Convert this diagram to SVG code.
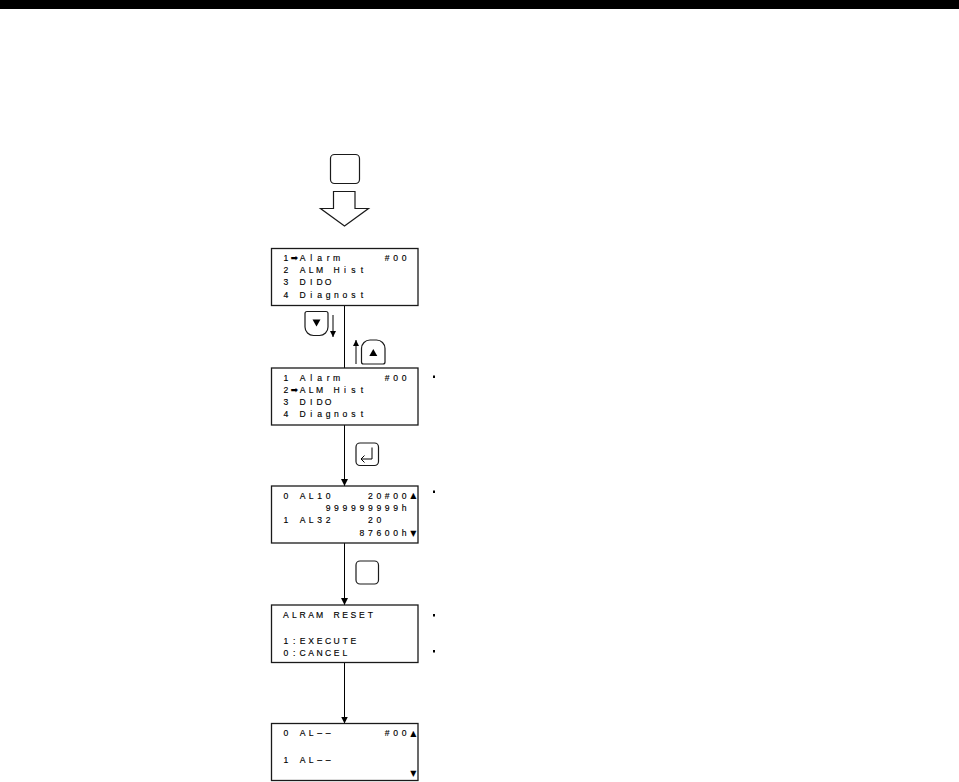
<svg xmlns="http://www.w3.org/2000/svg" width="959" height="782" viewBox="0 0 959 782">
<style>
.box{fill:#fff;stroke:#1a1a1a;stroke-width:1.3}
.btn{fill:#fff;stroke:#1a1a1a;stroke-width:1.2}
.lcd{font-family:"Liberation Sans","DejaVu Sans",sans-serif;font-size:8.6px;fill:#000;stroke:#000;stroke-width:0.15;text-anchor:middle}
.sym{font-family:"DejaVu Sans","Liberation Sans",sans-serif;font-size:8px;fill:#000;text-anchor:middle}
.ln{stroke:#000;stroke-width:1;fill:none}
.dot{fill:#000}
</style>
<defs>
<marker id="ah" viewBox="0 0 7 7" refX="7" refY="3.5" markerWidth="7" markerHeight="7" markerUnits="userSpaceOnUse" orient="auto">
<path d="M0,0 L7,3.5 L0,7 Z" fill="#000"/>
</marker>
<marker id="sa" viewBox="0 0 6 6" refX="6" refY="3" markerWidth="6" markerHeight="6" markerUnits="userSpaceOnUse" orient="auto">
<path d="M0,0 L6,3 L0,6 Z" fill="#000"/>
</marker>
</defs>
<rect x="0" y="0" width="959" height="9" fill="#000"/>

<g id="start-key">
<rect class="btn" x="330.5" y="154.5" width="29" height="29" rx="4"/>
<path class="btn" d="M333.5,191.5 H355 V208.5 H368.5 L344.5,226 L320.5,208.5 H333.5 Z"/>
</g>

<g id="connectors">
<line class="ln" x1="344.5" y1="305.5" x2="344.5" y2="368"/>
<line class="ln" x1="344.5" y1="425" x2="344.5" y2="486" marker-end="url(#ah)"/>
<line class="ln" x1="344.5" y1="543" x2="344.5" y2="605" marker-end="url(#ah)"/>
<line class="ln" x1="344.5" y1="662.5" x2="344.5" y2="723.5" marker-end="url(#ah)"/>
<line class="ln" x1="333" y1="315" x2="333" y2="337" marker-end="url(#sa)"/>
<line class="ln" x1="356" y1="364" x2="356" y2="340" marker-end="url(#sa)"/>
</g>

<g id="key-down">
<path class="btn" d="M307,311.5 H326 Q328,311.5 328,313.5 V327 A8.5,8.5 0 0 1 319.5,335.5 H313.5 A8.5,8.5 0 0 1 305,327 V313.5 Q305,311.5 307,311.5 Z"/>
<path d="M312.5,319.5 H320.5 L316.5,326.5 Z" fill="#000"/>
</g>

<g id="key-up">
<path class="btn" d="M361.5,348.5 A8.5,8.5 0 0 1 370,340 H376.5 A8.5,8.5 0 0 1 385,348.5 V362 Q385,364 383,364 H363.5 Q361.5,364 361.5,362 Z"/>
<path d="M369.3,356 H377.3 L373.3,349 Z" fill="#000"/>
</g>

<g id="key-enter">
<rect class="btn" x="356" y="443" width="22.5" height="22.5" rx="4"/>
<path class="ln" d="M372,447.5 V459 H361" stroke-width="1.2"/>
<path class="ln" d="M364.5,455.5 L361,459 L364.5,462.5" stroke-width="1.2"/>
</g>

<g id="key-blank">
<rect class="btn" x="356" y="561" width="22.5" height="23" rx="4"/>
</g>

<g id="screen-menu-1">
<rect class="box" x="271.5" y="248.5" width="146.5" height="57"/>
<text class="lcd" x="285.8 294.3 302.7 311.2 319.6 328.1 336.5 387.2 395.7 404.1" y="260.9">1➡Alarm#00</text>
<text class="lcd" x="285.8 302.7 311.2 319.6 336.5 345.0 353.4 361.9" y="273.1">2ALMHist</text>
<text class="lcd" x="285.8 302.7 311.2 319.6 328.1" y="285.3">3DIDO</text>
<text class="lcd" x="285.8 302.7 311.2 319.6 328.1 336.5 345.0 353.4 361.9" y="297.5">4Diagnost</text>
</g>

<g id="screen-menu-2">
<rect class="box" x="271.5" y="368" width="146.5" height="57"/>
<text class="lcd" x="285.8 302.7 311.2 319.6 328.1 336.5 387.2 395.7 404.1" y="380.6">1Alarm#00</text>
<text class="lcd" x="285.8 294.3 302.7 311.2 319.6 336.5 345.0 353.4 361.9" y="392.8">2➡ALMHist</text>
<text class="lcd" x="285.8 302.7 311.2 319.6 328.1" y="405">3DIDO</text>
<text class="lcd" x="285.8 302.7 311.2 319.6 328.1 336.5 345.0 353.4 361.9" y="417.4">4Diagnost</text>
</g>

<g id="screen-history">
<rect class="box" x="271.5" y="486" width="146.5" height="57"/>
<text class="lcd" x="285.8 302.7 311.2 319.6 328.1 370.3 378.8 387.2 395.7 404.1" y="498.8">0AL1020#00</text>
<text class="sym" x="413.3" y="498.3">▲</text>
<text class="lcd" x="328.1 336.5 345.0 353.4 361.9 370.3 378.8 387.2 395.7 404.1" y="511">999999999h</text>
<text class="lcd" x="285.8 302.7 311.2 319.6 328.1 370.3 378.8" y="523.3">1AL3220</text>
<text class="lcd" x="361.9 370.3 378.8 387.2 395.7 404.1" y="535.5">87600h</text>
<text class="sym" x="413.3" y="535.8">▼</text>
</g>

<g id="screen-reset">
<rect class="box" x="271.5" y="605" width="146.5" height="57.5"/>
<text class="lcd" x="285.8 294.3 302.7 311.2 319.6 336.5 345.0 353.4 361.9 370.3" y="617.5">ALRAMRESET</text>
<text class="lcd" x="285.8 294.3 302.7 311.2 319.6 328.1 336.5 345.0 353.4" y="643.8">1:EXECUTE</text>
<text class="lcd" x="285.8 294.3 302.7 311.2 319.6 328.1 336.5 345.0" y="656.1">0:CANCEL</text>
</g>

<g id="screen-cleared">
<rect class="box" x="271.5" y="723.5" width="146.5" height="57"/>
<text class="lcd" x="285.8 302.7 311.2 319.6 328.1 387.2 395.7 404.1" y="735.7">0AL––#00</text>
<text class="sym" x="413.3" y="735.5">▲</text>
<text class="lcd" x="285.8 302.7 311.2 319.6 328.1" y="762.7">1AL––</text>
<text class="sym" x="413.3" y="776">▼</text>
</g>

<g id="notes">
<rect class="dot" x="433" y="375.5" width="2" height="2.5"/>
<rect class="dot" x="433" y="490.5" width="2" height="2.5"/>
<rect class="dot" x="433" y="614" width="2" height="2.5"/>
<rect class="dot" x="433" y="650" width="2" height="2.5"/>
</g>
</svg>
